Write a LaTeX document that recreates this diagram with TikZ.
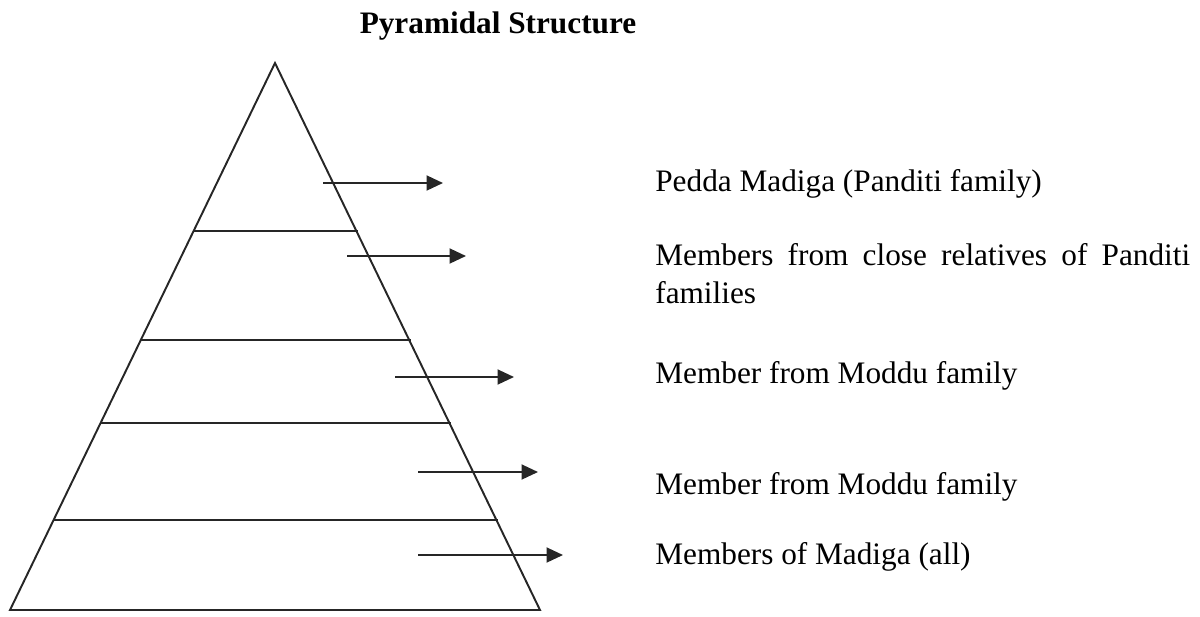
\documentclass[tikz,border=0pt]{standalone}
\usepackage{fontspec}
\setmainfont{Liberation Serif}
\usetikzlibrary{arrows.meta,calc}

\tikzset{
  pyrline/.style={line width=1.1pt, black!85},
  levelarrow/.style={line width=1.1pt, black!85, -{Triangle[length=3.3mm,width=3mm]}},
  leveltext/.style={anchor=base west, inner sep=0pt, font=\fontsize{17.8}{21.5}\selectfont}
}

\begin{document}
\begin{tikzpicture}[x=0.02cm, y=-0.02cm]
\useasboundingbox (0,0) rectangle (1200,616);

% title
\node[inner sep=0pt, anchor=base, font=\fontsize{17.8}{21.5}\selectfont\bfseries] (title) at (498,33) {Pyramidal Structure};

% pyramid outline
\coordinate (apex) at (275,63);
\coordinate (bl) at (10,610);
\coordinate (br) at (540,610);
\draw[pyrline] (bl) -- (apex) -- (br) -- cycle;

% levels
\foreach \t in {0.307, 0.506, 0.658, 0.835}
    \draw[pyrline] ($(apex)!\t!(bl)$) -- ($(apex)!\t!(br)+(2,0)$);

% labels
\node[leveltext] (l1) at (655,191) {Pedda Madiga (Panditi family)};
\node[leveltext, anchor=north west, text width=10.7cm, align=justify] (l2) at (655,243)
  {Members from close relatives of Panditi families};
\node[leveltext] (l3) at (655,383) {Member from Moddu family};
\node[leveltext] (l4) at (655,494) {Member from Moddu family};
\node[leveltext] (l5) at (655,564) {Members of Madiga (all)};

% arrows
\coordinate (s1) at (323,183); \coordinate (e1) at (443,183);
\coordinate (s2) at (347,256); \coordinate (e2) at (466,256);
\coordinate (s3) at (395,377); \coordinate (e3) at (514,377);
\coordinate (s4) at (418,472); \coordinate (e4) at (538,472);
\coordinate (s5) at (418,555); \coordinate (e5) at (563,555);
\foreach \i in {1,...,5}
    \draw[levelarrow] (s\i) -- (e\i);
\end{tikzpicture}
\end{document}
